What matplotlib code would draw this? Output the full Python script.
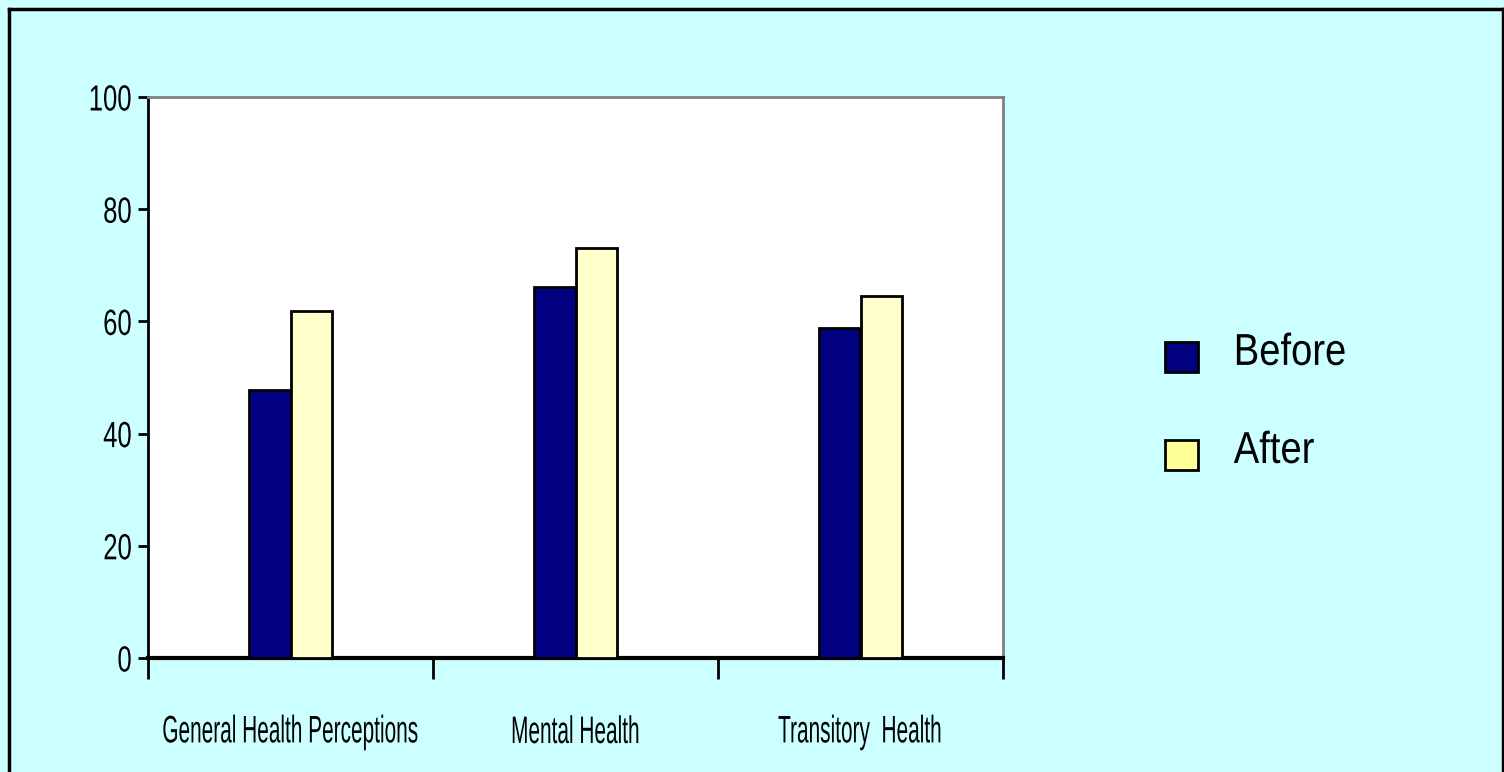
import matplotlib
matplotlib.use("Agg")
import matplotlib.pyplot as plt
import numpy as np
from matplotlib.patches import Patch, Rectangle
from matplotlib.lines import Line2D
from matplotlib.patheffects import AbstractPathEffect
from matplotlib.transforms import Affine2D
from matplotlib.legend_handler import HandlerPatch

categories = ["General Health Perceptions", "Mental Health", "Transitory  Health"]
before = [47.8, 66.2, 58.9]
after = [61.9, 73.0, 64.5]
yticks = [0, 20, 40, 60, 80, 100]
series_names = ["Before", "After"]


class Stretch(AbstractPathEffect):
    """Draw the text glyphs condensed/stretched (text stays a Text artist)."""

    def __init__(self, sx, sy, anchor_x=0.5):
        super().__init__()
        self.sx, self.sy, self.anchor_x = sx, sy, anchor_x

    def draw_path(self, renderer, gc, tpath, affine, rgbFace=None):
        ext = tpath.get_extents()
        cx = ext.x0 + self.anchor_x * (ext.x1 - ext.x0)
        cy = (ext.y0 + ext.y1) / 2
        t = Affine2D().translate(-cx, -cy).scale(self.sx, self.sy).translate(cx, cy) + affine
        renderer.draw_path(gc, tpath, t, rgbFace)


def lowered_square(legend, orig_handle, xdescent, ydescent, width, height, fontsize):
    return Rectangle((-xdescent, -ydescent - 5.5), width, height)


font = ["Liberation Sans", "DejaVu Sans"]

W, H = 1504, 772
fig = plt.figure(figsize=(W / 100, H / 100), dpi=100)
fig.patch.set_facecolor("#CCFFFF")

ax = fig.add_axes([148 / W, 1 - 658 / H, 855 / W, 561 / H])
ax.set_facecolor("white")

x = np.arange(len(categories))
bw = 0.144
ax.bar(x - bw / 2, before, bw, color="#000080", edgecolor="black", linewidth=2, zorder=3)
ax.bar(x + bw / 2, after, bw, color="#FFFFCC", edgecolor="black", linewidth=2, zorder=3)

ax.set_xlim(-0.5, len(categories) - 0.5)
ax.set_ylim(0, 100)

ax.set_yticks(yticks)
ax.set_yticklabels([str(v) for v in yticks], fontfamily=font, fontsize=22)
ax.tick_params(axis="y", direction="out", length=7, width=2, pad=4.5)
for lbl in ax.get_yticklabels():
    lbl.set_path_effects([Stretch(0.84, 1.19, 1.0)])

ax.set_xticks(np.arange(len(categories) + 1) - 0.5)
ax.set_xticklabels([])
ax.tick_params(axis="x", which="major", direction="out", length=15, width=2)
ax.set_xticks(x, minor=True)
ax.set_xticklabels(categories, minor=True, fontfamily=font, fontsize=23)
ax.tick_params(axis="x", which="minor", length=0, pad=43)
for lbl in ax.get_xticklabels(minor=True):
    lbl.set_path_effects([Stretch(0.652, 1.2, 0.5)])

ax.spines["left"].set_color("black")
ax.spines["left"].set_linewidth(2)
ax.spines["bottom"].set_color("black")
ax.spines["bottom"].set_linewidth(3)
for s in ("top", "right"):
    ax.spines[s].set_color("#808080")
    ax.spines[s].set_linewidth(2)

handles = [Patch(facecolor="#000080", edgecolor="black", linewidth=2),
           Patch(facecolor="#FFFF99", edgecolor="black", linewidth=2)]
leg = fig.legend(handles, series_names, loc="upper left",
                 bbox_to_anchor=(1165 / W, 1 - 334 / H),
                 frameon=False, prop={"family": font, "size": 27.5},
                 borderpad=0, borderaxespad=0,
                 handlelength=0.86, handleheight=0.86, labelspacing=1.61,
                 handletextpad=0.94,
                 handler_map={Patch: HandlerPatch(patch_func=lowered_square)})
for t in leg.get_texts():
    t.set_path_effects([Stretch(1.0, 1.17, 0.0)])

# figure border (top, left, right)
fig.add_artist(Line2D([9 / W, 9 / W], [0, 1 - 8.5 / H], transform=fig.transFigure, color="black", lw=2.5))
fig.add_artist(Line2D([9 / W, 1503 / W], [1 - 8.5 / H, 1 - 8.5 / H], transform=fig.transFigure, color="black", lw=2.5))
fig.add_artist(Line2D([1503 / W, 1503 / W], [0, 1 - 8.5 / H], transform=fig.transFigure, color="black", lw=2.5))

fig.savefig("out.png", dpi=100, facecolor=fig.get_facecolor())
